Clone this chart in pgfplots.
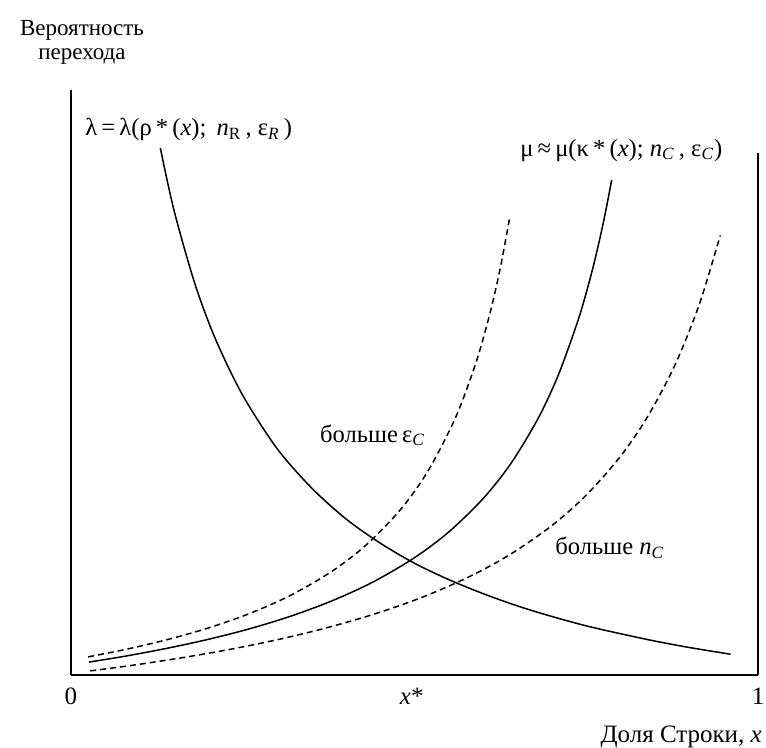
\documentclass[border=0pt]{standalone}
\usepackage{fontspec}
\setmainfont{Liberation Serif}
\usepackage{pgfplots}
\pgfplotsset{compat=1.18}
\usetikzlibrary{calc}
\tikzset{lbl/.style={inner sep=0pt, font=\fontsize{12.3}{14}\selectfont}}

\begin{document}
\begin{tikzpicture}
\begin{axis}[
  name=ax,
  scale only axis,
  width=343.5pt, height=292.5pt,
  xmin=0, xmax=1, ymin=0, ymax=1,
  axis x line=bottom, axis y line=left,
  axis line style={-, line width=1pt},
  xtick={0,0.496,1},
  xticklabels={0,\textit{x}*,1},
  ytick=\empty,
  major tick length=0pt,
  xticklabel style={font=\fontsize{12.5}{14}\selectfont, yshift=-3pt},
  clip=false,
  curve/.style={black, line width=0.75pt, smooth, mark=none},
  dashedcurve/.style={curve, dash pattern=on 3pt off 2pt},
]
% transition probability lambda (decreasing)
\addplot[curve] coordinates {
  (0.13,0.901) (0.15,0.794) (0.18,0.670) (0.21,0.575) (0.25,0.478)
  (0.30,0.387) (0.35,0.320) (0.40,0.267) (0.45,0.2255) (0.50,0.191)
  (0.55,0.163) (0.60,0.139) (0.65,0.118) (0.70,0.100) (0.75,0.084)
  (0.80,0.0705) (0.85,0.058) (0.90,0.047) (0.96,0.0355)
};
% transition probability mu (increasing)
\addplot[curve] coordinates {
  (0.026,0.022) (0.08,0.0324) (0.14,0.0457) (0.20,0.061) (0.26,0.079)
  (0.32,0.1006) (0.38,0.1268) (0.44,0.1592) (0.50,0.2005) (0.55,0.2446)
  (0.60,0.3017) (0.64,0.361) (0.68,0.4387) (0.71,0.5147) (0.74,0.6134)
  (0.76,0.6975) (0.775,0.774) (0.787,0.846)
};
% larger epsilon_C
\addplot[dashedcurve] coordinates {
  (0.025,0.031) (0.08,0.0438) (0.14,0.0604) (0.20,0.0804) (0.26,0.1051)
  (0.32,0.1364) (0.38,0.1774) (0.43,0.2226) (0.48,0.2833) (0.52,0.3494)
  (0.56,0.4407) (0.59,0.5358) (0.61,0.619) (0.625,0.6964) (0.639,0.7847)
};
% larger n_C
\addplot[dashedcurve] coordinates {
  (0.028,0.007) (0.09,0.0167) (0.16,0.0292) (0.23,0.0435) (0.30,0.0602)
  (0.37,0.080) (0.44,0.1036) (0.51,0.1323) (0.58,0.1681) (0.64,0.2067)
  (0.70,0.2555) (0.75,0.3074) (0.80,0.374) (0.84,0.4429) (0.88,0.5321)
  (0.915,0.6351) (0.945,0.7513)
};
% right frame line
\draw[line width=1pt] (axis cs:1,0) -- (axis cs:1,0.892);

\node[lbl, anchor=west] at (axis cs:0.0204,0.932)
  {λ\,=\,λ(ρ\,*\,(\textit{x}); \,\textit{n}\textsubscript{R}\,, ε\textsubscript{\textit{R}}\,)};
\node[lbl, anchor=west] at (axis cs:0.6536,0.897)
  {μ\,≈\,μ(κ\,*\,(\textit{x}); \textit{n}\textsubscript{\textit{C}}\,, ε\textsubscript{\textit{C}})};
\node[lbl, anchor=west] at (axis cs:0.362,0.41)
  {больше\,ε\textsubscript{\textit{C}}};
\node[lbl, anchor=west] at (axis cs:0.7045,0.217)
  {больше \textit{n}\textsubscript{\textit{C}}};
\node[align=center, font=\fontsize{11.5}{12}\selectfont] at (axis cs:0.016,1.081)
  {Вероятность\\перехода};
\node[lbl, anchor=east, font=\fontsize{12.5}{14}\selectfont] at (axis cs:1.006,-0.106)
  {Доля Строки, \textit{x}};
\end{axis}
\pgfresetboundingbox
\path[use as bounding box] ($(ax.south west)+(-35.5pt,-36.5pt)$) rectangle ($(ax.north east)+(4pt,45pt)$);
\end{tikzpicture}
\end{document}
